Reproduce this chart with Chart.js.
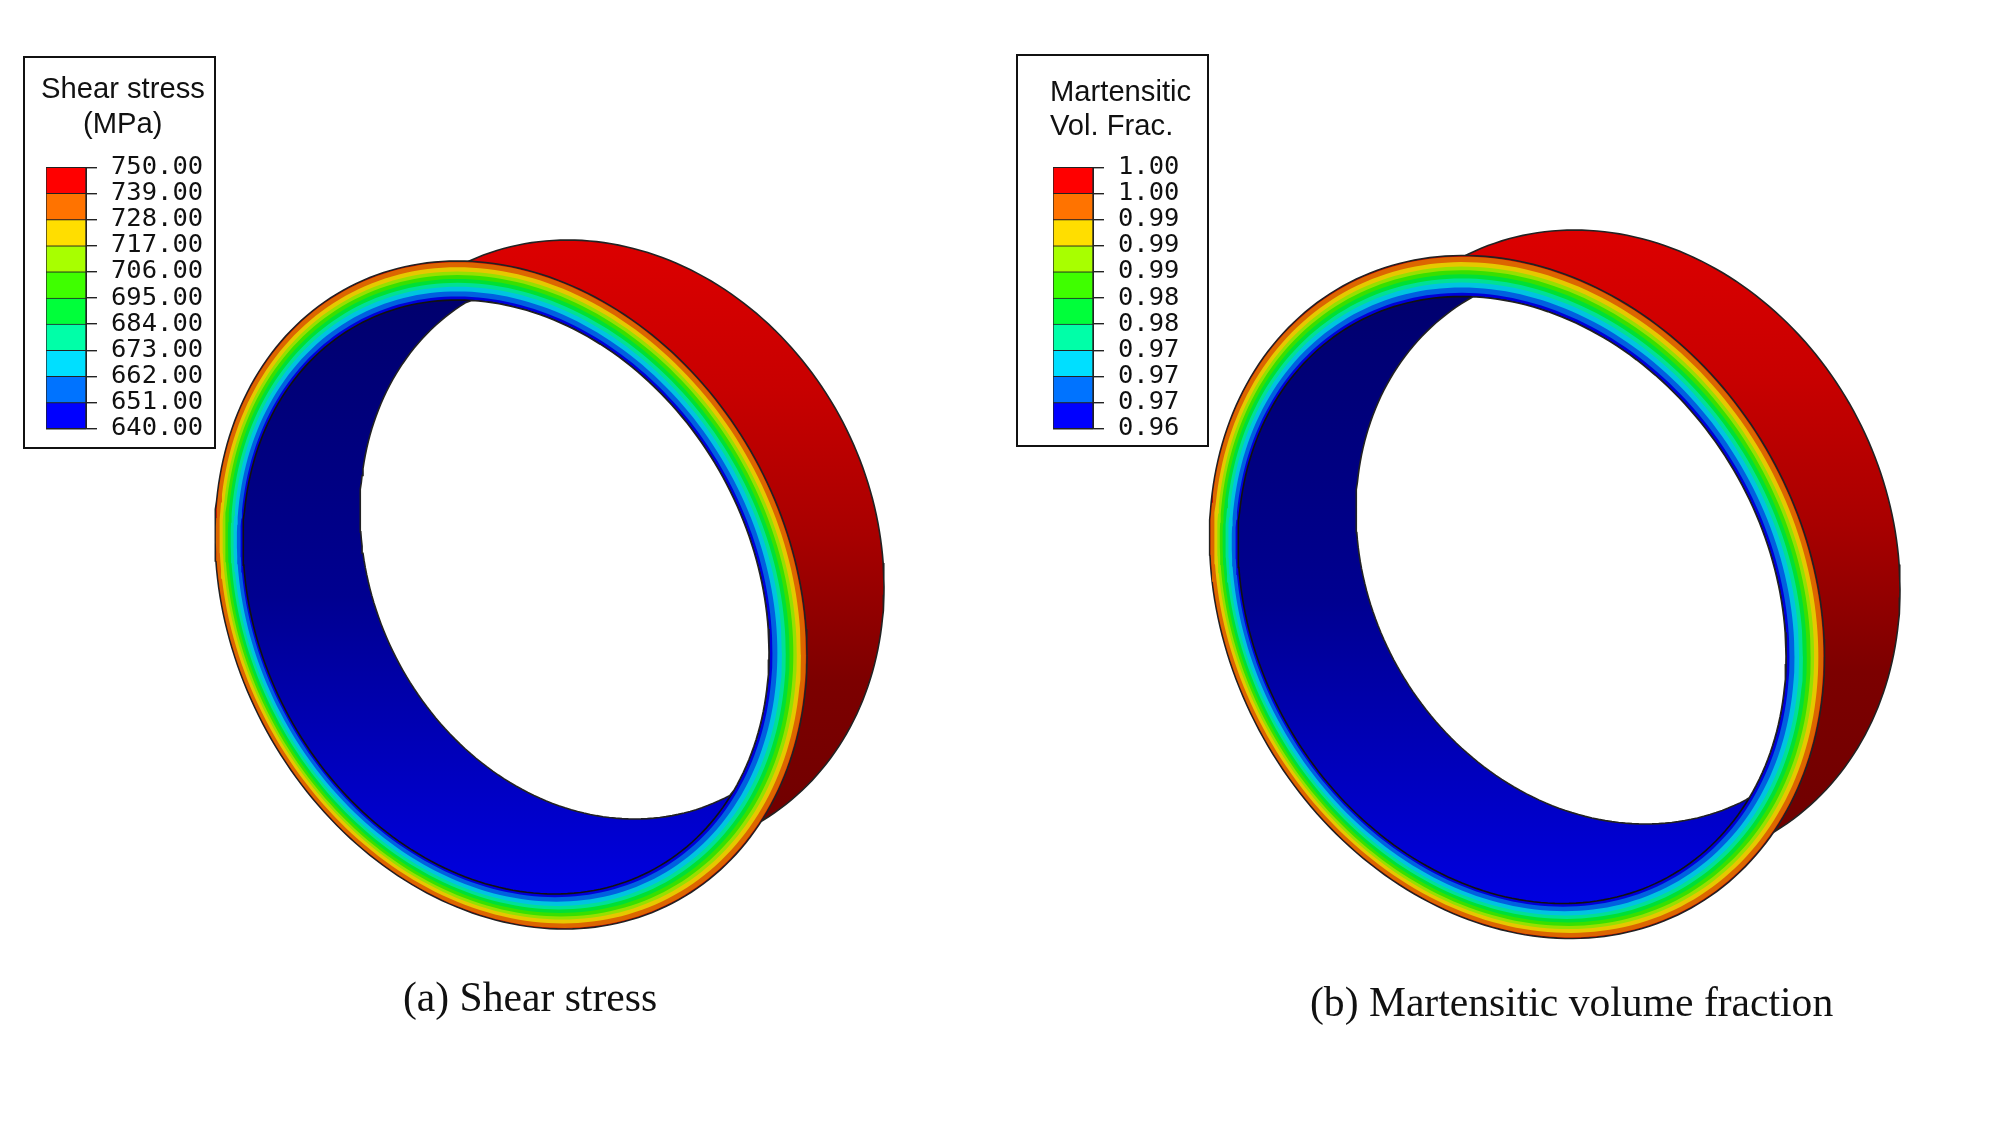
<!DOCTYPE html>
<html>
<head>
<meta charset="utf-8">
<title>Ring contours</title>
<script src="https://cdn.jsdelivr.net/npm/chart.js@4/dist/chart.umd.min.js"></script>
<style>
    html, body { margin: 0; padding: 0; background: #fff; }
    #page { position: relative; width: 2000px; height: 1125px; overflow: hidden; }
    canvas { position: absolute; }
    .legendBox { position: absolute; border: 2px solid #111; box-sizing: border-box; }
    .legendTitle { position: absolute; font-family: "Liberation Sans", sans-serif; font-size: 29.2px; line-height: 34px; color: #111; white-space: nowrap; }
    .caption { position: absolute; font-family: "Liberation Serif", serif; font-size: 41.6px; line-height: 48px; color: #111; white-space: nowrap; }
</style>
</head>
<body>
<div id="page">
    <canvas id="ringCanvas" width="2000" height="1125" style="left:0;top:0"></canvas>

    <div class="legendBox" style="left:23px;top:56px;width:193px;height:393px"></div>
    <div class="legendTitle" style="left:41px;top:71px">Shear stress</div>
    <div class="legendTitle" style="left:83px;top:106px">(MPa)</div>
    <canvas id="legendA" width="180" height="320" style="left:36px;top:138px"></canvas>

    <div class="legendBox" style="left:1016px;top:54px;width:193px;height:393px"></div>
    <div class="legendTitle" style="left:1050px;top:74px">Martensitic</div>
    <div class="legendTitle" style="left:1050px;top:108px">Vol. Frac.</div>
    <canvas id="legendB" width="180" height="320" style="left:1043px;top:138px"></canvas>

    <div class="caption" style="left:403px;top:973px">(a) Shear stress</div>
    <div class="caption" style="left:1310px;top:978px">(b) Martensitic volume fraction</div>
</div>

<script>
/* ---------------------------------------------------
    Data
---------------------------------------------------*/
const shearTicks = ["640.00", "651.00", "662.00", "673.00", "684.00", "695.00", "706.00", "717.00", "728.00", "739.00", "750.00"];
const fractionTicks = ["0.96", "0.97", "0.97", "0.97", "0.98", "0.98", "0.99", "0.99", "0.99", "1.00", "1.00"];

// contour bands, lowest value first
const legendColors = ["#0000ff", "#0073ff", "#00dfff", "#00ffa8", "#00ff3a", "#3fff00", "#a8ff00", "#ffde00", "#ff7300", "#ff0000"];
const faceColors = ["#0000d8", "#0060e0", "#00c4e0", "#00e096", "#00e034", "#38e000", "#96e000", "#e6c800", "#dc6600", "#c80000"];
const wallRedStops = ["#dc0000", "#c80000", "#a80000", "#7c0000", "#700000"];
const wallBlueStops = ["#00006e", "#000090", "#0000e0"];

// depth of each contour across the face, outer edge = 0, inner edge = 1, red band first
const contourDepth = [0, 0.03, 0.16, 0.27, 0.36, 0.46, 0.56, 0.66, 0.78, 0.91, 1];

// ellipses as [centre x, centre y, half width, half height, tilt]
const faceOuterA = [511, 595, 296, 334, 0.18];
const faceInnerA = [506, 597, 263, 297, 0.185];
const wallBackA = [604, 547, 280, 307, 0.13];
const holeBackA = [603, 546, 243, 273, 0.13];

const faceOuterB = [1517, 597, 307.5, 341.5, 0.175];
const faceInnerB = [1512, 600, 274, 303.5, 0.185];
const wallBackB = [1612, 548, 288, 318, 0.13];
const holeBackB = [1612, 547, 256, 277, 0.13];

/* ---------------------------------------------------
    Helper: trace an ellipse as scatter points
---------------------------------------------------*/
const STEPS = 240;

function ellipsePoints(e) {
    const [cx, cy, ax, ay, tilt] = e;
    const root = Math.sqrt(1 - tilt * tilt);
    const pts = [];
    for (let i = 0; i <= STEPS; i++) {
        const t = i / STEPS * Math.PI * 2;
        pts.push({
            x: cx + ax * Math.cos(t),
            y: cy + ay * (tilt * Math.cos(t) + root * Math.sin(t))
        });
    }
    return pts;
}

function insideEllipse(e, p) {
    const [cx, cy, ax, ay, tilt] = e;
    const u = (p.x - cx) / ax;
    const v = ((p.y - cy) / ay - tilt * u) / Math.sqrt(1 - tilt * tilt);
    return u * u + v * v <= 1;
}

// opening seen through the ring: overlap of the two inner edges
function holePoints(front, back) {
    const a = ellipsePoints(front).filter(p => insideEllipse(back, p));
    const b = ellipsePoints(back).filter(p => insideEllipse(front, p));
    const all = a.concat(b);
    const mx = all.reduce((s, p) => s + p.x, 0) / all.length;
    const my = all.reduce((s, p) => s + p.y, 0) / all.length;
    all.sort((p, q) => Math.atan2(p.y - my, p.x - mx) - Math.atan2(q.y - my, q.x - mx));
    all.push(all[0]);
    return all;
}

function mixEllipse(a, b, f) {
    return a.map((v, i) => v + (b[i] - v) * f);
}

function verticalGradient(ctx, stops, top, bottom) {
    const chart = ctx.chart;
    if (!chart.chartArea) return stops[0];
    const g = chart.ctx.createLinearGradient(0, top, 0, bottom);
    stops.forEach((c, i) => g.addColorStop(i / (stops.length - 1), c));
    return g;
}

function shape(points, fillColor, edge) {
    return {
        data: points,
        showLine: true,
        fill: 'shape',
        backgroundColor: fillColor,
        borderColor: edge || 'transparent',
        borderWidth: edge ? 1.6 : 0,
        pointRadius: 0,
        tension: 0
    };
}

// listed back to front
function ringDatasets(outer, inner, wall, holeBack) {
    const top = wall[1] - wall[3];
    const sets = [];
    sets.push(shape(ellipsePoints(wall), ctx => verticalGradient(ctx, wallRedStops, top, top + 590), "#222"));
    sets.push(shape(ellipsePoints(outer), faceColors[9], "#222"));
    for (let i = 1; i < contourDepth.length - 1; i++) {
        sets.push(shape(ellipsePoints(mixEllipse(outer, inner, contourDepth[i])), faceColors[9 - i]));
    }
    sets.push(shape(ellipsePoints(inner), ctx => verticalGradient(ctx, wallBlueStops, inner[1] - inner[3], inner[1] + inner[3]), "#111"));
    sets.push(shape(holePoints(inner, holeBack), "#ffffff", "#222"));
    return sets;
}

/* ---------------------------------------------------
    Rings on a scale that spans the whole page
---------------------------------------------------*/
// Chart.js paints the first dataset last, so flip the list
const ringSets = ringDatasets(faceOuterA, faceInnerA, wallBackA, holeBackA)
    .concat(ringDatasets(faceOuterB, faceInnerB, wallBackB, holeBackB))
    .reverse();

new Chart(document.getElementById('ringCanvas'), {
    type: 'scatter',
    data: { datasets: ringSets },
    options: {
        responsive: false,
        animation: false,
        layout: { padding: 0 },
        plugins: { legend: { display: false }, tooltip: { enabled: false } },
        scales: {
            x: { type: 'linear', min: 0, max: 2000, display: false },
            y: { type: 'linear', min: 0, max: 1125, reverse: true, display: false }
        }
    }
});

/* ---------------------------------------------------
    Colour bars
---------------------------------------------------*/
function createLegend(canvasId, ticks) {
    new Chart(document.getElementById(canvasId), {
        type: 'bar',
        data: {
            labels: [""],
            datasets: legendColors.map(c => ({
                data: [1],
                backgroundColor: c,
                borderColor: "#222",
                borderWidth: 1,
                barPercentage: 1,
                categoryPercentage: 1
            }))
        },
        options: {
            responsive: false,
            animation: false,
            layout: { padding: { left: 10, top: 7, bottom: 5, right: 0 } },
            plugins: { legend: { display: false }, tooltip: { enabled: false } },
            scales: {
                x: { stacked: true, display: false },
                y: {
                    stacked: true,
                    position: 'right',
                    min: 0,
                    max: 10,
                    afterFit: scale => { scale.width = 130; },
                    border: { color: "#222" },
                    grid: { color: "#222", lineWidth: 1.4, tickLength: 11, drawOnChartArea: true },
                    ticks: {
                        stepSize: 1,
                        autoSkip: false,
                        padding: 14,
                        color: "#111",
                        font: { family: "DejaVu Sans Mono", size: 25.5 },
                        callback: v => ticks[v]
                    }
                }
            }
        }
    });
}

createLegend('legendA', shearTicks);
createLegend('legendB', fractionTicks);
</script>
</body>
</html>
